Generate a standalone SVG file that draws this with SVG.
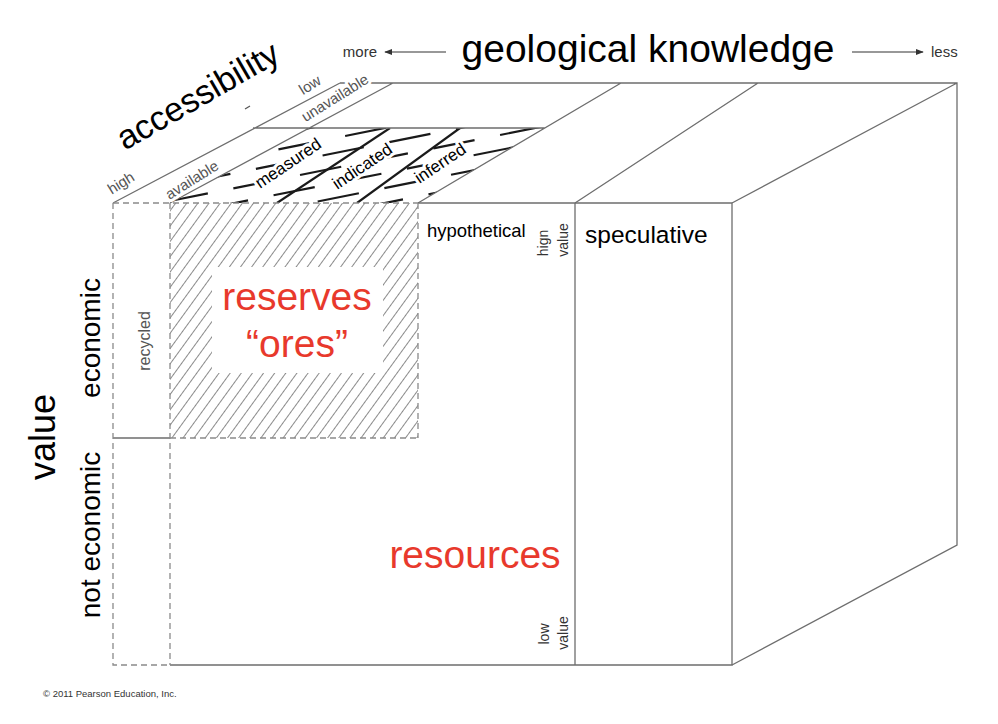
<svg xmlns="http://www.w3.org/2000/svg" width="998" height="724" viewBox="0 0 998 724">
<style>
.ln{fill:none;stroke:#6e6e6e;stroke-width:1.3}
.dash{fill:none;stroke:#8a8a8a;stroke-width:1.3;stroke-dasharray:6 4}
.t{font-family:"Liberation Sans",Arial,Helvetica,sans-serif}
.blk{fill:#000}
.gry{fill:#555}
.dk{fill:#333}
.red{fill:#e8392c}
.halo{stroke:#fff;stroke-width:6;paint-order:stroke;stroke-linejoin:round}
.hz{fill:none;stroke:#1a1a1a;stroke-width:2.2}
.arr{fill:none;stroke:#333;stroke-width:1.2}
</style>
<defs>
<pattern id="hatch" width="9" height="9" patternUnits="userSpaceOnUse" patternTransform="rotate(36)">
<line x1="0" y1="-1" x2="0" y2="10" stroke="#3c3c3c" stroke-width="1.2"/>
</pattern>
<clipPath id="topclip"><polygon points="170,203 418,203 545,128 309,128"/></clipPath>
<marker id="ah" viewBox="0 0 10 10" refX="9" refY="5" markerWidth="8" markerHeight="8" markerUnits="userSpaceOnUse" orient="auto">
<path d="M0,1 L10,5 L0,9 Z" fill="#333"/>
</marker>
</defs>

<g id="reserves-area">
<rect x="170" y="203" width="248" height="235" fill="url(#hatch)"/>
<rect x="212" y="267" width="171" height="106" fill="#fff"/>
</g>

<g id="top-face-hatch" clip-path="url(#topclip)">
<g class="hz" stroke-dasharray="42 26">
<line x1="150" y1="130" x2="560" y2="48" stroke-dashoffset="0"/>
<line x1="150" y1="145" x2="560" y2="63" stroke-dashoffset="23"/>
<line x1="150" y1="160" x2="560" y2="78" stroke-dashoffset="46"/>
<line x1="150" y1="175" x2="560" y2="93" stroke-dashoffset="5"/>
<line x1="150" y1="190" x2="560" y2="108" stroke-dashoffset="28"/>
<line x1="150" y1="205" x2="560" y2="123" stroke-dashoffset="51"/>
<line x1="150" y1="220" x2="560" y2="138" stroke-dashoffset="10"/>
<line x1="150" y1="235" x2="560" y2="153" stroke-dashoffset="33"/>
<line x1="150" y1="250" x2="560" y2="168" stroke-dashoffset="56"/>
<line x1="150" y1="265" x2="560" y2="183" stroke-dashoffset="15"/>
<line x1="150" y1="280" x2="560" y2="198" stroke-dashoffset="38"/>
</g>
<g class="hz">
<line x1="277" y1="203" x2="390" y2="128"/>
<line x1="357" y1="203" x2="460" y2="128"/>
</g>
</g>

<g id="cube-lines">
<path class="ln" d="M113,203 L340,83 M340,83 H957 V545 L732,665 M170,203 L393,83 M418,203 L621,83 M575,203 L758,83 M732,203 L957,83 M253,128 H545"/>
<path class="ln" d="M418,203 H732 V665 H170 M575,203 V665 M113,438 H170"/>
<path class="dash" d="M113,203 H418 M113,203 V665 H170 M170,203 V665 M418,203 V438 M170,438 H418"/>
<line x1="245" y1="109" x2="250" y2="106" stroke="#555" stroke-width="1.2"/>
</g>

<g id="axis-knowledge">
<text class="t dk" x="377" y="57" font-size="15" text-anchor="end">more</text>
<line class="arr" x1="446" y1="52" x2="385" y2="52" marker-end="url(#ah)"/>
<text class="t blk" x="648" y="62" font-size="39" text-anchor="middle">geological knowledge</text>
<line class="arr" x1="852" y1="52" x2="923" y2="52" marker-end="url(#ah)"/>
<text class="t dk" x="931" y="57" font-size="15">less</text>
</g>

<g id="axis-accessibility">
<text class="t blk" transform="translate(198,96) rotate(-30)" x="0" y="11" font-size="34" text-anchor="middle">accessibility</text>
<text class="t gry halo" transform="translate(121,183) rotate(-32)" x="0" y="5" font-size="15" text-anchor="middle">high</text>
<text class="t gry halo" transform="translate(310,85) rotate(-32)" x="0" y="5" font-size="15" text-anchor="middle">low</text>
<text class="t gry halo" transform="translate(192,180) rotate(-32)" x="0" y="5" font-size="15" text-anchor="middle">available</text>
<text class="t gry halo" transform="translate(335,98) rotate(-32)" x="0" y="5" font-size="15" text-anchor="middle">unavailable</text>
</g>

<g id="top-labels">
<text class="t blk halo" transform="translate(288,163) rotate(-34)" x="0" y="6" font-size="17" text-anchor="middle">measured</text>
<text class="t blk halo" transform="translate(362,166) rotate(-34)" x="0" y="6" font-size="17" text-anchor="middle">indicated</text>
<text class="t blk halo" transform="translate(440,163) rotate(-34)" x="0" y="6" font-size="17" text-anchor="middle">inferred</text>
</g>

<g id="axis-value">
<text class="t blk" transform="translate(42,437) rotate(-90)" x="0" y="13" font-size="36" text-anchor="middle">value</text>
<text class="t blk" transform="translate(90,338) rotate(-90)" x="0" y="10" font-size="28" text-anchor="middle">economic</text>
<text class="t blk" transform="translate(90,535) rotate(-90)" x="0" y="10" font-size="28" text-anchor="middle">not economic</text>
<text class="t gry" transform="translate(144,341) rotate(-90)" x="0" y="6" font-size="16" text-anchor="middle">recycled</text>
</g>

<g id="front-labels">
<text class="t red" x="297" y="310" font-size="39" text-anchor="middle">reserves</text>
<text class="t red" x="297" y="357" font-size="39" text-anchor="middle">“ores”</text>
<text class="t red" x="475" y="568" font-size="39" text-anchor="middle">resources</text>
<text class="t blk" x="427" y="237" font-size="18.5">hypothetical</text>
<text class="t blk" x="585" y="243" font-size="24.5">speculative</text>
<text class="t dk" transform="translate(548,243) rotate(-90)" font-size="14" text-anchor="middle">hign</text>
<text class="t dk" transform="translate(568,240) rotate(-90)" font-size="14" text-anchor="middle">value</text>
<text class="t dk" transform="translate(549,634) rotate(-90)" font-size="14" text-anchor="middle">low</text>
<text class="t dk" transform="translate(568,633) rotate(-90)" font-size="14" text-anchor="middle">value</text>
</g>

<text class="t dk" x="43" y="697" font-size="9.5">© 2011 Pearson Education, Inc.</text>
</svg>
